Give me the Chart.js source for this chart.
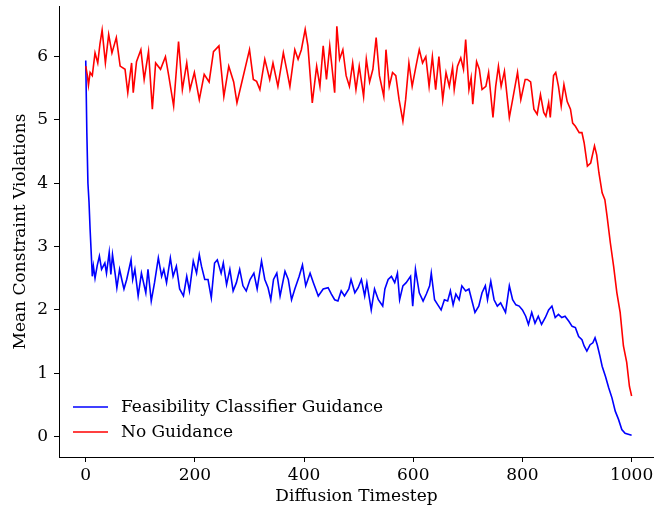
<!DOCTYPE html>
<html>
<head>
<meta charset="utf-8">
<script src="https://cdn.jsdelivr.net/npm/chart.js@4.4.1/dist/chart.umd.min.js"></script>
<style>
  html, body { margin: 0; padding: 0; background: #fff; }
  #wrap { width: 654px; height: 512px; }
</style>
</head>
<body>
<div id="wrap"><canvas id="violationsChart" width="654" height="512"></canvas></div>
<script>
// values
const xTicks = [0, 200, 400, 600, 800, 1000];
const yTicks = [0, 1, 2, 3, 4, 5, 6];

const feasSteps = [0, 2, 4, 6, 8, 10, 12, 14, 17, 21, 25, 29, 35, 38, 43, 46, 49, 54, 57, 62, 66, 70, 75, 83, 86, 90, 96, 102, 110, 114, 120, 126, 133, 139, 143, 148, 155, 160, 166, 172, 179, 185, 190, 197, 203, 208, 212, 218, 224, 230, 236, 241, 248, 252, 258, 264, 270, 276, 282, 288, 294, 301, 308, 314, 322, 328, 334, 339, 344, 350, 356, 365, 371, 377, 383, 391, 397, 403, 411, 417, 426, 435, 444, 450, 456, 462, 468, 474, 482, 486, 493, 499, 505, 511, 515, 523, 529, 536, 544, 548, 554, 560, 566, 571, 575, 581, 587, 595, 599, 604, 611, 618, 624, 630, 633, 639, 645, 651, 657, 663, 668, 673, 678, 684, 689, 696, 702, 707, 713, 720, 726, 732, 736, 742, 748, 754, 760, 769, 776, 782, 788, 794, 800, 806, 811, 817, 823, 829, 835, 842, 848, 854, 860, 866, 872, 878, 885, 891, 897, 903, 909, 913, 918, 924, 929, 933, 937, 942, 946, 952, 958, 964, 970, 976, 982, 988, 1000];
const feasValues = [5.94, 4.8, 4.0, 3.7, 3.27, 2.9, 2.53, 2.69, 2.5, 2.7, 2.85, 2.64, 2.74, 2.58, 2.91, 2.56, 2.87, 2.56, 2.35, 2.64, 2.48, 2.33, 2.48, 2.79, 2.48, 2.64, 2.22, 2.58, 2.27, 2.64, 2.14, 2.43, 2.82, 2.53, 2.64, 2.43, 2.82, 2.53, 2.69, 2.33, 2.22, 2.53, 2.3, 2.77, 2.58, 2.87, 2.69, 2.48, 2.48, 2.19, 2.74, 2.79, 2.58, 2.74, 2.4, 2.64, 2.3, 2.43, 2.64, 2.38, 2.3, 2.48, 2.58, 2.33, 2.77, 2.48, 2.35, 2.16, 2.48, 2.58, 2.22, 2.61, 2.48, 2.16, 2.33, 2.53, 2.71, 2.38, 2.58, 2.43, 2.22, 2.33, 2.35, 2.25, 2.16, 2.14, 2.3, 2.22, 2.33, 2.48, 2.27, 2.35, 2.48, 2.22, 2.43, 2.0, 2.33, 2.16, 2.06, 2.33, 2.48, 2.53, 2.43, 2.58, 2.16, 2.38, 2.43, 2.53, 2.06, 2.64, 2.27, 2.14, 2.25, 2.38, 2.58, 2.16, 2.08, 2.0, 2.16, 2.14, 2.3, 2.08, 2.25, 2.16, 2.38, 2.3, 2.33, 2.16, 1.96, 2.06, 2.27, 2.38, 2.16, 2.45, 2.16, 2.06, 2.11, 1.96, 2.38, 2.16, 2.08, 2.06, 2.0, 1.9, 1.77, 1.96, 1.79, 1.9, 1.77, 1.88, 2.0, 2.06, 1.88, 1.93, 1.88, 1.9, 1.82, 1.74, 1.72, 1.58, 1.53, 1.43, 1.35, 1.45, 1.48, 1.56, 1.45, 1.27, 1.11, 0.95, 0.77, 0.61, 0.4, 0.27, 0.11, 0.05, 0.02];

const noGuideSteps = [0, 3, 5, 8, 12, 17, 22, 26, 30, 36, 42, 48, 56, 63, 72, 77, 84, 87, 93, 101, 107, 115, 122, 128, 137, 146, 152, 161, 170, 177, 185, 191, 199, 208, 217, 226, 234, 244, 253, 262, 271, 277, 286, 300, 307, 313, 319, 328, 337, 343, 352, 362, 368, 374, 383, 389, 395, 402, 407, 415, 423, 429, 435, 441, 447, 456, 460, 465, 471, 477, 483, 489, 495, 501, 509, 514, 520, 526, 532, 538, 546, 550, 556, 562, 568, 574, 581, 586, 592, 598, 605, 611, 617, 623, 629, 635, 641, 647, 654, 660, 666, 672, 675, 681, 687, 692, 696, 702, 706, 709, 716, 721, 726, 733, 738, 746, 751, 756, 761, 767, 776, 782, 791, 797, 805, 809, 815, 821, 827, 833, 839, 843, 848, 851, 857, 861, 866, 871, 876, 882, 888, 892, 897, 904, 909, 913, 919, 925, 932, 936, 940, 946, 951, 955, 961, 967, 973, 979, 985, 991, 996, 1000];
const noGuideValues = [5.85, 5.7, 5.55, 5.75, 5.7, 6.06, 5.9, 6.2, 6.42, 5.9, 6.35, 6.06, 6.3, 5.85, 5.8, 5.43, 5.9, 5.43, 5.92, 6.11, 5.64, 6.08, 5.17, 5.9, 5.8, 6.0, 5.7, 5.22, 6.24, 5.48, 5.9, 5.48, 5.75, 5.32, 5.72, 5.6, 6.08, 6.17, 5.37, 5.85, 5.6, 5.27, 5.6, 6.11, 5.64, 5.61, 5.48, 5.96, 5.64, 5.9, 5.53, 6.06, 5.8, 5.53, 6.11, 5.96, 6.11, 6.43, 6.17, 5.27, 5.85, 5.53, 6.17, 5.64, 6.17, 5.43, 6.48, 5.96, 6.11, 5.7, 5.53, 5.9, 5.48, 5.85, 5.37, 5.96, 5.6, 5.8, 6.3, 5.7, 5.37, 6.11, 5.53, 5.75, 5.7, 5.32, 4.98, 5.32, 5.9, 5.53, 5.85, 6.11, 5.9, 6.0, 5.53, 6.0, 5.48, 6.0, 5.32, 5.75, 5.53, 5.83, 5.48, 5.85, 5.98, 5.8, 6.27, 5.48, 5.67, 5.25, 5.92, 5.8, 5.48, 5.53, 5.75, 5.04, 5.53, 5.85, 5.53, 5.77, 5.04, 5.32, 5.75, 5.32, 5.64, 5.64, 5.6, 5.17, 5.09, 5.4, 5.12, 5.06, 5.27, 5.04, 5.7, 5.75, 5.53, 5.22, 5.56, 5.29, 5.17, 4.95, 4.9, 4.8, 4.8, 4.64, 4.27, 4.32, 4.59, 4.45, 4.17, 3.85, 3.74, 3.48, 3.06, 2.69, 2.27, 1.96, 1.43, 1.17, 0.79, 0.64];

const FONT = 'DejaVu Serif';
const FONT_SIZE = 17;

function toPoints(xs, ys) {
    return xs.map(function (x, i) { return { x: x, y: ys[i] }; });
}

// legend drawn inside the plot, lower left, like the matplotlib one
const innerLegend = {
    id: 'innerLegend',
    afterDraw: function (chart) {
        const ctx = chart.ctx;
        const items = [chart.data.datasets[1], chart.data.datasets[0]];
        ctx.save();
        ctx.font = FONT_SIZE + 'px "' + FONT + '"';
        ctx.textBaseline = 'middle';
        ctx.fillStyle = '#000';
        items.forEach(function (ds, i) {
            const y = 407 + i * 25;
            ctx.strokeStyle = ds.borderColor;
            ctx.lineWidth = 1.5;
            ctx.beginPath();
            ctx.moveTo(73, y);
            ctx.lineTo(108, y);
            ctx.stroke();
            ctx.fillText(ds.label, 121, y + 1);
        });
        ctx.restore();
    }
};

const ctx = document.getElementById('violationsChart').getContext('2d');
const chart = new Chart(ctx, {
    type: 'line',
    data: {
        datasets: [{
            label: 'No Guidance',
            data: toPoints(noGuideSteps, noGuideValues),
            borderColor: '#ff0000',
            borderWidth: 1.6,
            order: 0
        }, {
            label: 'Feasibility Classifier Guidance',
            data: toPoints(feasSteps, feasValues),
            borderColor: '#0000ff',
            borderWidth: 1.6,
            order: 1
        }]
    },
    options: {
        responsive: false,
        animation: false,
        devicePixelRatio: 1,
        layout: { padding: { top: 6, right: 0, bottom: 0, left: 0 } },
        elements: { point: { radius: 0 }, line: { tension: 0 } },
        plugins: { legend: { display: false }, tooltip: { enabled: false } },
        scales: {
            x: {
                type: 'linear',
                min: -49,
                max: 1041,
                afterBuildTicks: function (scale) {
                    scale.ticks = xTicks.map(function (v) { return { value: v }; });
                },
                afterFit: function (scale) {
                    scale.height = 55;
                    scale.paddingLeft = 0;
                    scale.paddingRight = 0;
                },
                ticks: {
                    callback: function (v) { return String(v); },
                    color: '#000',
                    font: { family: FONT, size: FONT_SIZE },
                    padding: 3,
                    maxRotation: 0
                },
                grid: { drawOnChartArea: false, drawTicks: true, tickLength: 5, color: '#000' },
                border: { display: true, color: '#000', width: 1 },
                title: {
                    display: true,
                    text: 'Diffusion Timestep',
                    color: '#000',
                    font: { family: FONT, size: FONT_SIZE },
                    padding: { top: 0, bottom: 5 }
                }
            },
            y: {
                type: 'linear',
                min: -0.324,
                max: 6.8,
                afterBuildTicks: function (scale) {
                    scale.ticks = yTicks.map(function (v) { return { value: v }; });
                },
                afterFit: function (scale) {
                    scale.width = 59;
                    scale.paddingTop = 0;
                    scale.paddingBottom = 0;
                },
                ticks: {
                    callback: function (v) { return String(v); },
                    color: '#000',
                    font: { family: FONT, size: FONT_SIZE },
                    padding: 6
                },
                grid: { drawOnChartArea: false, drawTicks: true, tickLength: 5, color: '#000' },
                border: { display: true, color: '#000', width: 1 },
                title: {
                    display: true,
                    text: 'Mean Constraint Violations',
                    color: '#000',
                    font: { family: FONT, size: FONT_SIZE },
                    padding: { top: 10, bottom: 0 }
                }
            }
        }
    },
    plugins: [innerLegend]
});
</script>
</body>
</html>
